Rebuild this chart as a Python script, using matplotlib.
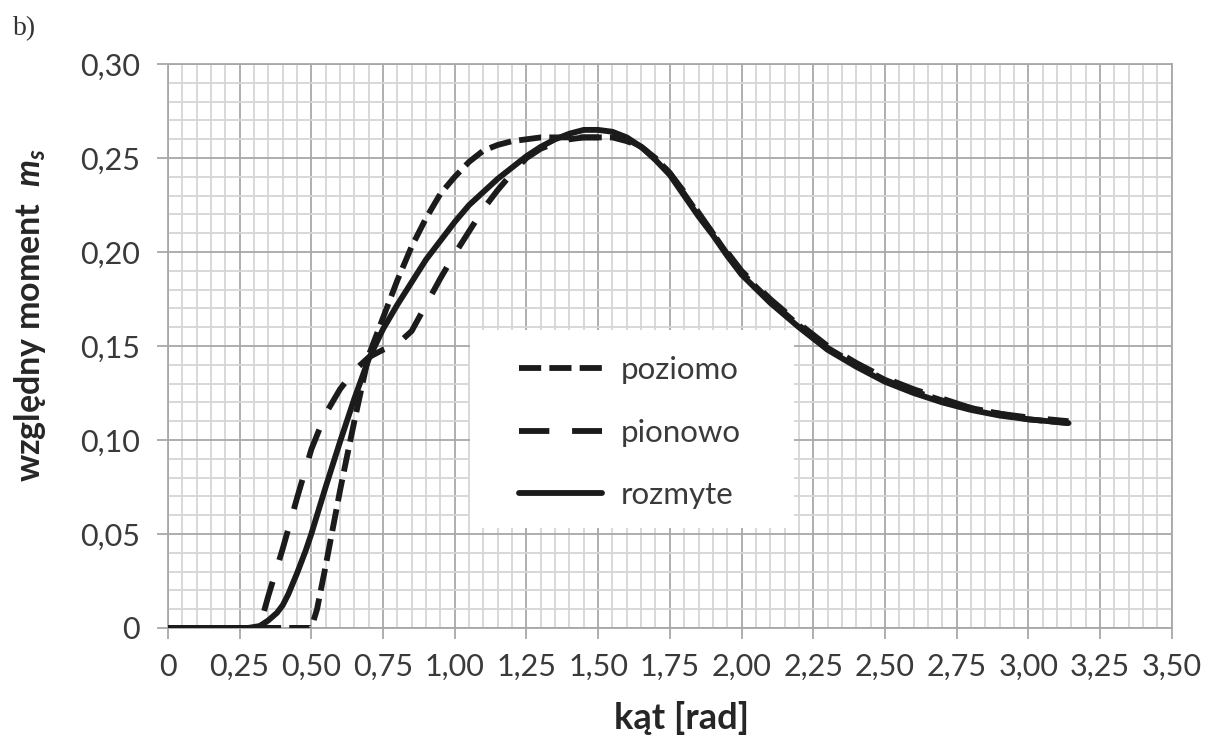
import matplotlib
matplotlib.use("Agg")
import matplotlib.pyplot as plt
import numpy as np
from matplotlib.patches import Rectangle
from matplotlib.ticker import MultipleLocator, FuncFormatter

plt.rcParams['font.family'] = ['Lato', 'DejaVu Sans']
plt.rcParams['mathtext.fontset'] = 'custom'
plt.rcParams['mathtext.it'] = 'Lato:italic:bold'
plt.rcParams['mathtext.rm'] = 'Lato:bold'

# rozmyte (solid)
x_roz = [0, 0.10, 0.20, 0.28, 0.32, 0.35, 0.38, 0.40, 0.42, 0.45, 0.48, 0.50,
         0.55, 0.60, 0.65, 0.70, 0.75, 0.80, 0.85, 0.90, 0.95, 1.00, 1.05,
         1.10, 1.15, 1.20, 1.25, 1.30, 1.35, 1.40, 1.45, 1.50, 1.55, 1.60,
         1.65, 1.70, 1.75, 1.80, 1.85, 1.90, 1.95, 2.00, 2.10, 2.20, 2.30,
         2.40, 2.50, 2.60, 2.70, 2.80, 2.90, 3.00, 3.14]
y_roz = [0, 0, 0, 0, 0.001, 0.004, 0.008, 0.012, 0.018, 0.029, 0.041, 0.050,
         0.075, 0.099, 0.122, 0.143, 0.159, 0.172, 0.184, 0.196, 0.206, 0.216, 0.225,
         0.232, 0.239, 0.245, 0.251, 0.256, 0.260, 0.263, 0.265, 0.265, 0.264, 0.261,
         0.256, 0.249, 0.241, 0.230, 0.219, 0.209, 0.198, 0.188, 0.173, 0.160, 0.148,
         0.139, 0.131, 0.125, 0.120, 0.116, 0.113, 0.111, 0.109]

# poziomo (short dashes)
x_poz = [0, 0.25, 0.50, 0.52, 0.55, 0.58, 0.60, 0.62, 0.65, 0.70, 0.75, 0.80,
         0.85, 0.90, 0.95, 1.00, 1.05, 1.10, 1.15, 1.20, 1.25, 1.30, 1.40,
         1.50, 1.55, 1.60, 1.65, 1.70, 1.75, 1.80, 1.85, 1.90, 1.95, 2.00,
         2.10, 2.20, 2.30, 2.40, 2.50, 2.60, 2.70, 2.80, 2.90, 3.00, 3.14]
y_poz = [0, 0, 0, 0.010, 0.033, 0.057, 0.073, 0.088, 0.110, 0.145, 0.165, 0.185,
         0.203, 0.218, 0.231, 0.240, 0.248, 0.254, 0.257, 0.259, 0.260, 0.261, 0.261,
         0.261, 0.261, 0.259, 0.256, 0.250, 0.242, 0.231, 0.220, 0.210, 0.199, 0.189,
         0.174, 0.161, 0.149, 0.140, 0.132, 0.126, 0.121, 0.117, 0.114, 0.111, 0.109]

# pionowo (long dashes)
x_pio = [0, 0.25, 0.30, 0.33, 0.35, 0.40, 0.45, 0.50, 0.55, 0.60, 0.65, 0.70,
         0.75, 0.80, 0.85, 0.90, 0.95, 1.00, 1.05, 1.10, 1.15, 1.20, 1.25,
         1.30, 1.35, 1.40, 1.45, 1.50, 1.55, 1.60, 1.65, 1.70, 1.75, 1.80,
         1.85, 1.90, 1.95, 2.00, 2.10, 2.20, 2.30, 2.40, 2.50, 2.60, 2.70,
         2.80, 2.90, 3.00, 3.14]
y_pio = [0, 0, 0, 0.006, 0.017, 0.042, 0.069, 0.095, 0.114, 0.127, 0.137, 0.144,
         0.148, 0.151, 0.158, 0.172, 0.186, 0.199, 0.211, 0.223, 0.233, 0.242, 0.250,
         0.255, 0.258, 0.260, 0.261, 0.261, 0.261, 0.260, 0.256, 0.250, 0.242, 0.232,
         0.221, 0.210, 0.200, 0.190, 0.175, 0.162, 0.150, 0.141, 0.133, 0.127, 0.122,
         0.117, 0.114, 0.112, 0.110]

labels = ['poziomo', 'pionowo', 'rozmyte']

ink = '#1b1b1b'
lw = 4.2

fig = plt.figure(figsize=(12.08, 7.37), dpi=100)
ax = fig.add_axes([0.139, 0.148, 0.831, 0.765])

ax.plot(x_poz, y_poz, color=ink, lw=lw, dashes=(3.8, 1.4), label=labels[0], zorder=3)
ax.plot(x_pio, y_pio, color=ink, lw=lw, dashes=(5.2, 3.9), label=labels[1], zorder=3)
ax.plot(x_roz, y_roz, color=ink, lw=lw, solid_capstyle='round', label=labels[2], zorder=4)

ax.set_xlim(0, 3.5)
ax.set_ylim(0, 0.30)
ax.xaxis.set_major_locator(MultipleLocator(0.25))
ax.xaxis.set_minor_locator(MultipleLocator(0.05))
ax.yaxis.set_major_locator(MultipleLocator(0.05))
ax.yaxis.set_minor_locator(MultipleLocator(0.01))


def comma(v, pos):
    if abs(v) < 1e-9:
        return '0'
    return f'{v:.2f}'.replace('.', ',')


ax.xaxis.set_major_formatter(FuncFormatter(comma))
ax.yaxis.set_major_formatter(FuncFormatter(comma))

ax.set_axisbelow(True)
ax.grid(which='minor', color='#d6d6d6', lw=1.3)
ax.grid(which='major', color='#a8a8a8', lw=1.3)
for s in ax.spines.values():
    s.set_color('#a8a8a8')
    s.set_linewidth(1.3)

ax.tick_params(which='major', length=8, width=1.3, color='#a8a8a8',
               labelsize=22, labelcolor='#3a3a3a', pad=10)
ax.tick_params(axis='y', pad=12)
ax.tick_params(which='minor', length=0)

ax.set_xlabel('kąt [rad]', fontsize=26, fontweight='bold', color='#262626')
ax.set_ylabel('względny moment  $m_s$', fontsize=24.5, fontweight='bold', color='#262626')
ax.xaxis.set_label_coords(0.512, -0.130)
ax.yaxis.set_label_coords(-0.119, 0.555)

# white legend panel
ax.add_patch(Rectangle((0.301, 0.177), 0.323, 0.351, transform=ax.transAxes,
                       facecolor='white', edgecolor='none', zorder=2))
leg = ax.legend(loc='upper left', bbox_to_anchor=(0.350, 0.482), frameon=False,
                fontsize=22.5, handlelength=2.65, handletextpad=0.6, labelspacing=1.1,
                borderpad=0, borderaxespad=0, labelcolor='#3a3a3a')
leg.set_zorder(5)

fig.text(0.011, 0.953, 'b)', fontsize=20, family='Liberation Serif', color='#333333')

fig.savefig('out.png', dpi=100)
